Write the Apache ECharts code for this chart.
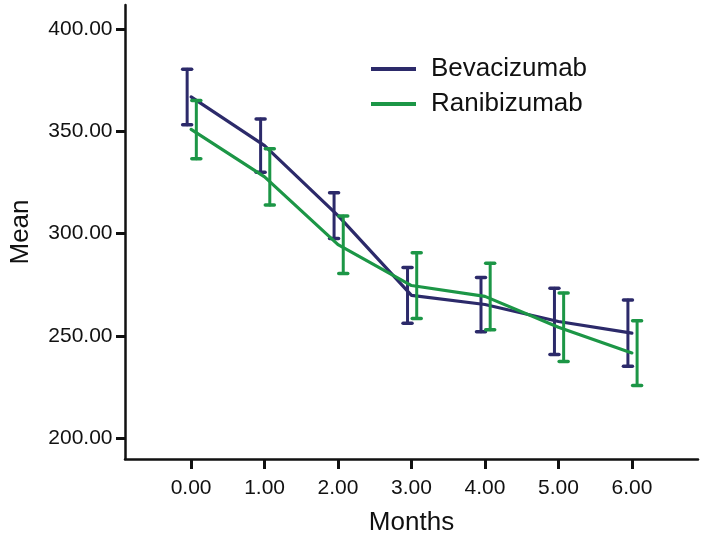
<!DOCTYPE html>
<html>
<head>
<meta charset="utf-8">
<script src="https://cdn.jsdelivr.net/npm/echarts@6/dist/echarts.min.js"></script>
<style>
  html, body { margin: 0; padding: 0; background: #fff; }
  #chart { width: 702px; height: 541px; }
</style>
</head>
<body>
<div id="chart"></div>
<script>
// ---- data ----
const months = [0, 1, 2, 3, 4, 5, 6];
const bevMean = [366.9, 343.1, 308.8, 269.8, 265.3, 257.0, 251.3];
const bevLow  = [353.3, 330.0, 297.6, 256.2, 252.0, 240.8, 235.1];
const bevHigh = [380.5, 356.1, 320.0, 283.4, 278.5, 273.3, 267.5];
const ranMean = [351.0, 327.8, 294.6, 274.6, 269.3, 254.2, 241.6];
const ranLow  = [336.7, 314.0, 280.5, 258.5, 253.0, 237.4, 225.7];
const ranHigh = [365.2, 341.5, 308.6, 290.7, 285.5, 270.9, 257.4];
const yTicks = [200, 250, 300, 350, 400];
const seriesNames = ['Bevacizumab', 'Ranibizumab'];

// ---- style ----
const BLUE = '#2c2a6a';
const GREEN = '#1c9646';
const FONT = 'Arial, "Liberation Sans", sans-serif';
const BEV_BAR_SHIFT = -0.054;
const RAN_BAR_SHIFT = 0.071;

function errData(low, high, shift) {
  return months.map((m, i) => [m + shift, low[i], high[i]]);
}
function errRender(color) {
  return function (params, api) {
    const x = api.value(0);
    const lo = api.coord([x, api.value(1)]);
    const hi = api.coord([x, api.value(2)]);
    const cw = 4.5;
    const st = { stroke: color, lineWidth: 3, lineCap: 'round' };
    const cs = { stroke: color, lineWidth: 3.5, lineCap: 'round' };
    return {
      type: 'group',
      children: [
        { type: 'line', shape: { x1: lo[0], y1: lo[1], x2: hi[0], y2: hi[1] }, style: st },
        { type: 'line', shape: { x1: hi[0] - cw, y1: hi[1], x2: hi[0] + cw, y2: hi[1] }, style: cs },
        { type: 'line', shape: { x1: lo[0] - cw, y1: lo[1], x2: lo[0] + cw, y2: lo[1] }, style: cs }
      ]
    };
  };
}

const chart = echarts.init(document.getElementById('chart'), null, { renderer: 'canvas' });
chart.setOption({
  animation: false,
  backgroundColor: '#fff',
  textStyle: { fontFamily: FONT },
  grid: { left: 116, right: 4, top: 5, bottom: 80.5, containLabel: false },
  legend: {
    orient: 'vertical',
    left: 366,
    top: 51,
    itemWidth: 45,
    itemHeight: 4,
    itemGap: 9,
    icon: 'rect',
    data: seriesNames,
    textStyle: { fontSize: 26, color: '#111', fontFamily: FONT, lineHeight: 26, padding: [0, 0, 0, 10] }
  },
  xAxis: {
    type: 'value',
    min: -0.9,
    max: 6.9,
    name: 'Months',
    nameLocation: 'middle',
    nameGap: 51,
    nameTextStyle: { fontSize: 26, color: '#111', fontFamily: FONT },
    axisLine: { show: true, onZero: false, lineStyle: { color: '#111', width: 2.5 } },
    axisTick: { show: true, length: 10, customValues: months, lineStyle: { color: '#111', width: 3 } },
    axisLabel: { customValues: months, margin: 19, fontSize: 21, color: '#111', fontFamily: FONT,
      formatter: v => v.toFixed(2) },
    splitLine: { show: false }
  },
  yAxis: {
    type: 'value',
    min: 189.7,
    max: 411.9,
    name: 'Mean',
    nameLocation: 'middle',
    nameGap: 91,
    nameTextStyle: { fontSize: 26, color: '#111', fontFamily: FONT },
    axisLine: { show: true, onZero: false, lineStyle: { color: '#111', width: 2.5 } },
    axisTick: { show: true, length: 9, customValues: yTicks, lineStyle: { color: '#111', width: 3 } },
    axisLabel: { customValues: yTicks, margin: 12.5, fontSize: 21, color: '#111', fontFamily: FONT,
      formatter: v => v.toFixed(2) },
    splitLine: { show: false }
  },
  series: [
    {
      name: seriesNames[0], type: 'line', color: BLUE,
      data: months.map((m, i) => [m, bevMean[i]]),
      showSymbol: false, symbol: 'none',
      lineStyle: { color: BLUE, width: 3.2, cap: 'round', join: 'round' }, z: 2
    },
    {
      name: seriesNames[0] + '_err', type: 'custom', renderItem: errRender(BLUE),
      data: errData(bevLow, bevHigh, BEV_BAR_SHIFT), encode: { x: 0, y: [1, 2] }, z: 3
    },
    {
      name: seriesNames[1], type: 'line', color: GREEN,
      data: months.map((m, i) => [m, ranMean[i]]),
      showSymbol: false, symbol: 'none',
      lineStyle: { color: GREEN, width: 3.2, cap: 'round', join: 'round' }, z: 4
    },
    {
      name: seriesNames[1] + '_err', type: 'custom', renderItem: errRender(GREEN),
      data: errData(ranLow, ranHigh, RAN_BAR_SHIFT), encode: { x: 0, y: [1, 2] }, z: 5
    }
  ]
});
</script>
</body>
</html>
